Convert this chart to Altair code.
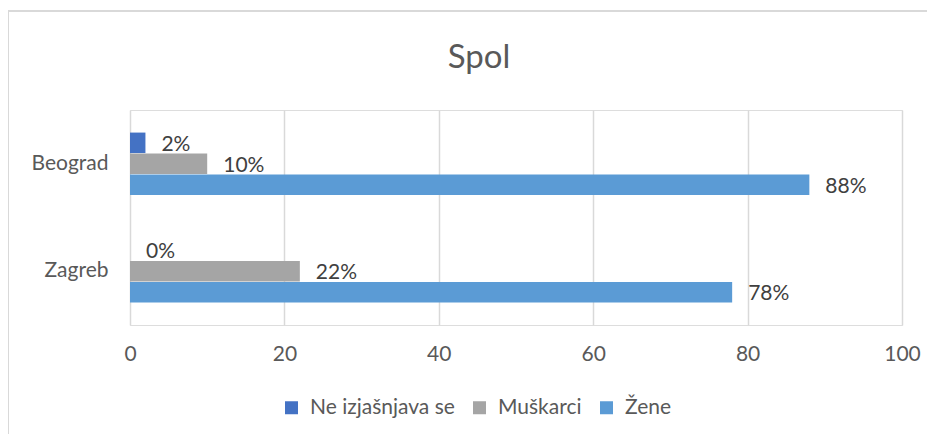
import altair as alt
import pandas as pd

cities = ["Beograd", "Zagreb"]
series = ["Ne izjašnjava se", "Muškarci", "Žene"]
colors = ["#4472C4", "#A5A5A5", "#5B9BD5"]
values = {
    "Ne izjašnjava se": [2, 0],
    "Muškarci": [10, 22],
    "Žene": [88, 78],
}
x_ticks = [0, 20, 40, 60, 80, 100]
title_text = "Spol"

rows = []
for s in series:
    for c, v in zip(cities, values[s]):
        rows.append({"grad": c, "serija": s, "vrijednost": v, "oznaka": f"{v}%"})
df = pd.DataFrame(rows)

FONT = "Lato"
TXT = "#595959"
FS = 21

y_enc = alt.Y("grad:N", sort=cities, title=None,
              scale=alt.Scale(paddingInner=0.42, paddingOuter=0.21),
              axis=alt.Axis(labelFontSize=FS, labelColor=TXT, labelFont=FONT,
                            ticks=False, domain=False, labelPadding=22))
yoff = alt.YOffset("serija:N", sort=series, scale=alt.Scale(paddingInner=0.02))

x_enc = alt.X("vrijednost:Q", title=None,
              scale=alt.Scale(domain=[0, 100], nice=False),
              axis=alt.Axis(values=x_ticks, labelFontSize=FS, labelColor=TXT,
                            labelFont=FONT, ticks=False, domain=False, labelFlush=False,
                            gridColor="#D9D9D9", gridWidth=1.5, labelPadding=18))

base = alt.Chart(df)

bars = base.mark_bar().encode(
    x=x_enc,
    y=y_enc,
    yOffset=yoff,
    color=alt.Color("serija:N", sort=series,
                    scale=alt.Scale(domain=series, range=colors),
                    legend=alt.Legend(title=None, orient="none", direction="horizontal",
                                      legendX=151, legendY=287,
                                      symbolType="square", symbolSize=169,
                                      symbolStrokeWidth=0,
                                      labelFontSize=FS, labelColor=TXT, labelFont=FONT,
                                      columnPadding=14, labelOffset=8)),
)

labels = base.mark_text(align="left", baseline="middle", dx=16, dy=2,
                        fontSize=FS, color="#404040", font=FONT).encode(
    x="vrijednost:Q",
    y=alt.Y("grad:N", sort=cities),
    yOffset=alt.YOffset("serija:N", sort=series),
    text="oznaka:N",
)

title = alt.Chart(pd.DataFrame({"t": [title_text]})).mark_text(
    fontSize=33, color=TXT, font=FONT, align="center", baseline="alphabetic"
).encode(x=alt.value(349), y=alt.value(-42), text="t:N")

border_top = alt.Chart(pd.DataFrame({"a": [0]})).mark_rule(color="#D9D9D9", strokeWidth=2).encode(
    x=alt.value(-122), x2=alt.value(800), y=alt.value(-99)
)
border_left = alt.Chart(pd.DataFrame({"a": [0]})).mark_rule(color="#D9D9D9", strokeWidth=2).encode(
    x=alt.value(-122), y=alt.value(-99), y2=alt.value(330)
)

chart = alt.layer(border_top, border_left, bars, labels, title).properties(
    width=772,
    height=215,
    autosize=alt.AutoSizeParams(type="none"),
    padding={"left": 122, "top": 102, "right": 25, "bottom": 109},
).configure_view(strokeWidth=0).configure(background="white")

chart.save("out.html", embed_options={"renderer": "svg", "actions": False})
